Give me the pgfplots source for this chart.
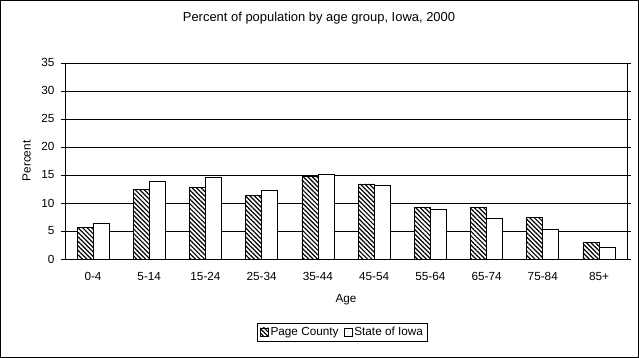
\documentclass[border=0pt]{standalone}
\usepackage{pgfplots}
\pgfplotsset{compat=1.18}
\usetikzlibrary{patterns.meta}
\usepackage{fontspec}
\setmainfont{Liberation Sans}
\begin{document}
\begin{tikzpicture}[x=1bp,y=1bp]
\draw[black, line width=0.8bp] (0.5,0.5) rectangle (638.5,357.5);
\begin{axis}[
  at={(65bp,99bp)}, anchor=south west,
  scale only axis, width=562bp, height=196bp,
  ybar=0pt, bar width=16bp,
  xmin=-0.5, xmax=9.5, ymin=0, ymax=35,
  ytick={0,5,...,35},
  xtick={0,...,9},
  xticklabels={0-4,5-14,15-24,25-34,35-44,45-54,55-64,65-74,75-84,85+},
  major x tick style={draw=none},
  extra x ticks={-0.5,0.5,...,9.5}, extra x tick labels={},
  extra x tick style={major tick length=5bp, tick align=outside, tick style={black}, grid=none},
  tick align=outside, major tick length=4bp,
  ytick style={black},
  ymajorgrids, grid style={black, line width=0.8bp},
  axis line style={black, line width=0.8bp},
  every tick label/.style={font=\fontsize{11.8}{13}\selectfont},
  xticklabel style={yshift=-6bp},
  yticklabel style={xshift=-3bp},
  /pgf/number format/assume math mode=true,
  xlabel={Age}, ylabel={Percent},
  label style={font=\fontsize{11.8}{13}\selectfont},
  xlabel style={at={(axis description cs:0.5,-0.209)}, anchor=center},
  ylabel style={at={(axis description cs:-0.068,0.5)}, anchor=center},
  title={Percent of population by age group, Iowa, 2000},
  title style={font=\fontsize{13}{15}\selectfont, at={(axis description cs:0.452,1.199)}, anchor=center},
  legend style={at={(0.4935,-0.372)}, anchor=center, legend columns=2, draw=black, line width=0.8bp, font=\fontsize{11.8}{13}\selectfont, inner sep=2bp, /tikz/every even column/.style={column sep=3bp}},
  legend image code/.code={\draw[#1, line width=0.8bp] (0bp,-4bp) rectangle (8bp,4bp);},
]
\addplot[draw=black, fill=white, postaction={pattern={Lines[angle=-45,distance=3.2bp,line width=1.2bp]}}, line width=0.8bp] coordinates {(0,5.7) (1,12.4) (2,12.8) (3,11.4) (4,14.8) (5,13.4) (6,9.2) (7,9.2) (8,7.4) (9,3.0)};
\addplot[draw=black, fill=white, line width=0.8bp] coordinates {(0,6.4) (1,13.9) (2,14.6) (3,12.3) (4,15.1) (5,13.2) (6,8.9) (7,7.3) (8,5.3) (9,2.1)};
\legend{Page County, State of Iowa}
\end{axis}
\end{tikzpicture}
\end{document}
